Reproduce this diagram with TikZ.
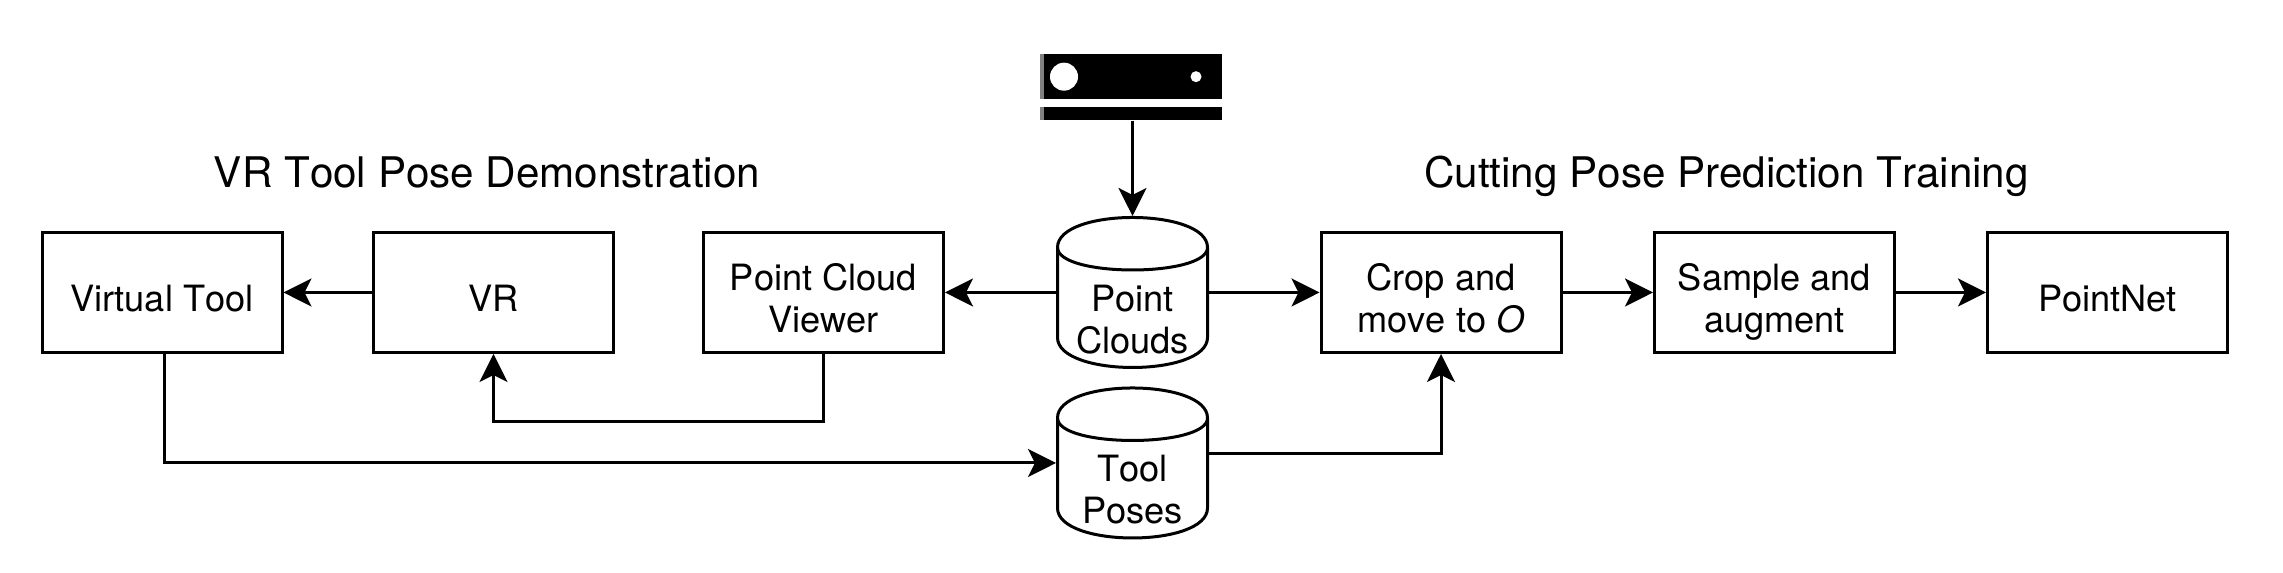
\documentclass[tikz,border=0pt]{standalone}
\usepackage{fontspec}
\setmainfont[Kerning=Off]{TeX Gyre Heros}
\usetikzlibrary{arrows.meta}

% text lines sit below the middle of their shape
\newcommand{\celltext}[2][-0.19cm]{\raisebox{#1}[0pt][0pt]{\begin{tabular}{@{}c@{}}#2\end{tabular}}}
\newcommand{\storeoutline}[1]{
    \begin{scope}[shift={(#1.center)}, line width=0.03cm]
        \draw (-0.75,0.45) .. controls (-0.75,0.85) and (0.75,0.85) .. (0.75,0.45)
            -- (0.75,-0.45) .. controls (0.75,-0.85) and (-0.75,-0.85) .. (-0.75,-0.45) -- cycle;
        \draw (-0.75,0.45) .. controls (-0.75,0.15) and (0.75,0.15) .. (0.75,0.45);
    \end{scope}
}

\tikzset{
    block/.style={draw, line width=0.03cm, minimum width=2.4cm, minimum height=1.2cm, inner sep=0pt, font=\fontsize{10.3}{12}\selectfont},
    store/.style={line width=0.03cm, minimum width=1.5cm, minimum height=1.5cm, inner sep=0pt, font=\fontsize{10.3}{12}\selectfont},
    heading/.style={font=\fontsize{12}{14.4}\selectfont, inner sep=0pt, anchor=base},
    flow/.style={line width=0.03cm, -{Stealth[length=0.28cm, width=0.28cm, inset=0.07cm]}},
    sensorbar/.style={fill=black, inner sep=0pt, minimum width=1.82cm}
}

\begin{document}
\begin{tikzpicture}
    \useasboundingbox (0,0) rectangle (22.83,5.73);

    \node[heading] (demotitle) at (4.87,3.855) {VR Tool Pose Demonstration};
    \node[heading] (traintitle) at (17.265,3.855) {Cutting Pose Prediction Training};

    \node[block] (tool) at (1.62,2.805) {\celltext{Virtual Tool}};
    \node[block] (vr) at (4.935,2.805) {\celltext{VR}};
    \node[block] (viewer) at (8.235,2.805) {\celltext{Point Cloud\\Viewer}};
    \node[block] (crop) at (14.41,2.805) {\celltext{Crop and\\move to \textit{O}}};
    \node[block] (sample) at (17.745,2.805) {\celltext{Sample and\\augment}};
    \node[block] (pointnet) at (21.075,2.805) {\celltext{PointNet}};

    \node[store] (clouds) at (11.325,2.805) {\celltext[-0.40cm]{Point\\Clouds}};
    \node[store] (poses) at (11.325,1.10) {\celltext[-0.40cm]{Tool\\Poses}};
    \storeoutline{clouds}
    \storeoutline{poses}

    \node[sensorbar, minimum height=0.45cm] (sensortop) at (11.31,4.965) {};
    \node[sensorbar, minimum height=0.13cm] (sensorbase) at (11.31,4.595) {};
    \fill[black!50] (10.40,4.74) rectangle (10.44,5.19);
    \fill[black!50] (10.40,4.53) rectangle (10.44,4.66);
    \fill[white] (10.64,4.963) circle (0.14);
    \fill[white] (11.96,4.963) circle (0.055);

    \draw[flow] (sensorbase.south -| clouds.north) -- (clouds.north);
    \draw[flow] (clouds) -- (viewer);
    \draw[flow] (clouds) -- (crop);
    \draw[flow] (vr) -- (tool);
    \draw[flow] (viewer.south) -- ++(0,-0.675) -| (vr.south);
    \draw[flow] ([xshift=0.02cm]tool.south) |- (poses.west);
    \draw[flow] ([yshift=0.09cm]poses.east) -| (crop.south);
    \draw[flow] (crop) -- (sample);
    \draw[flow] (sample) -- (pointnet);
\end{tikzpicture}
\end{document}
